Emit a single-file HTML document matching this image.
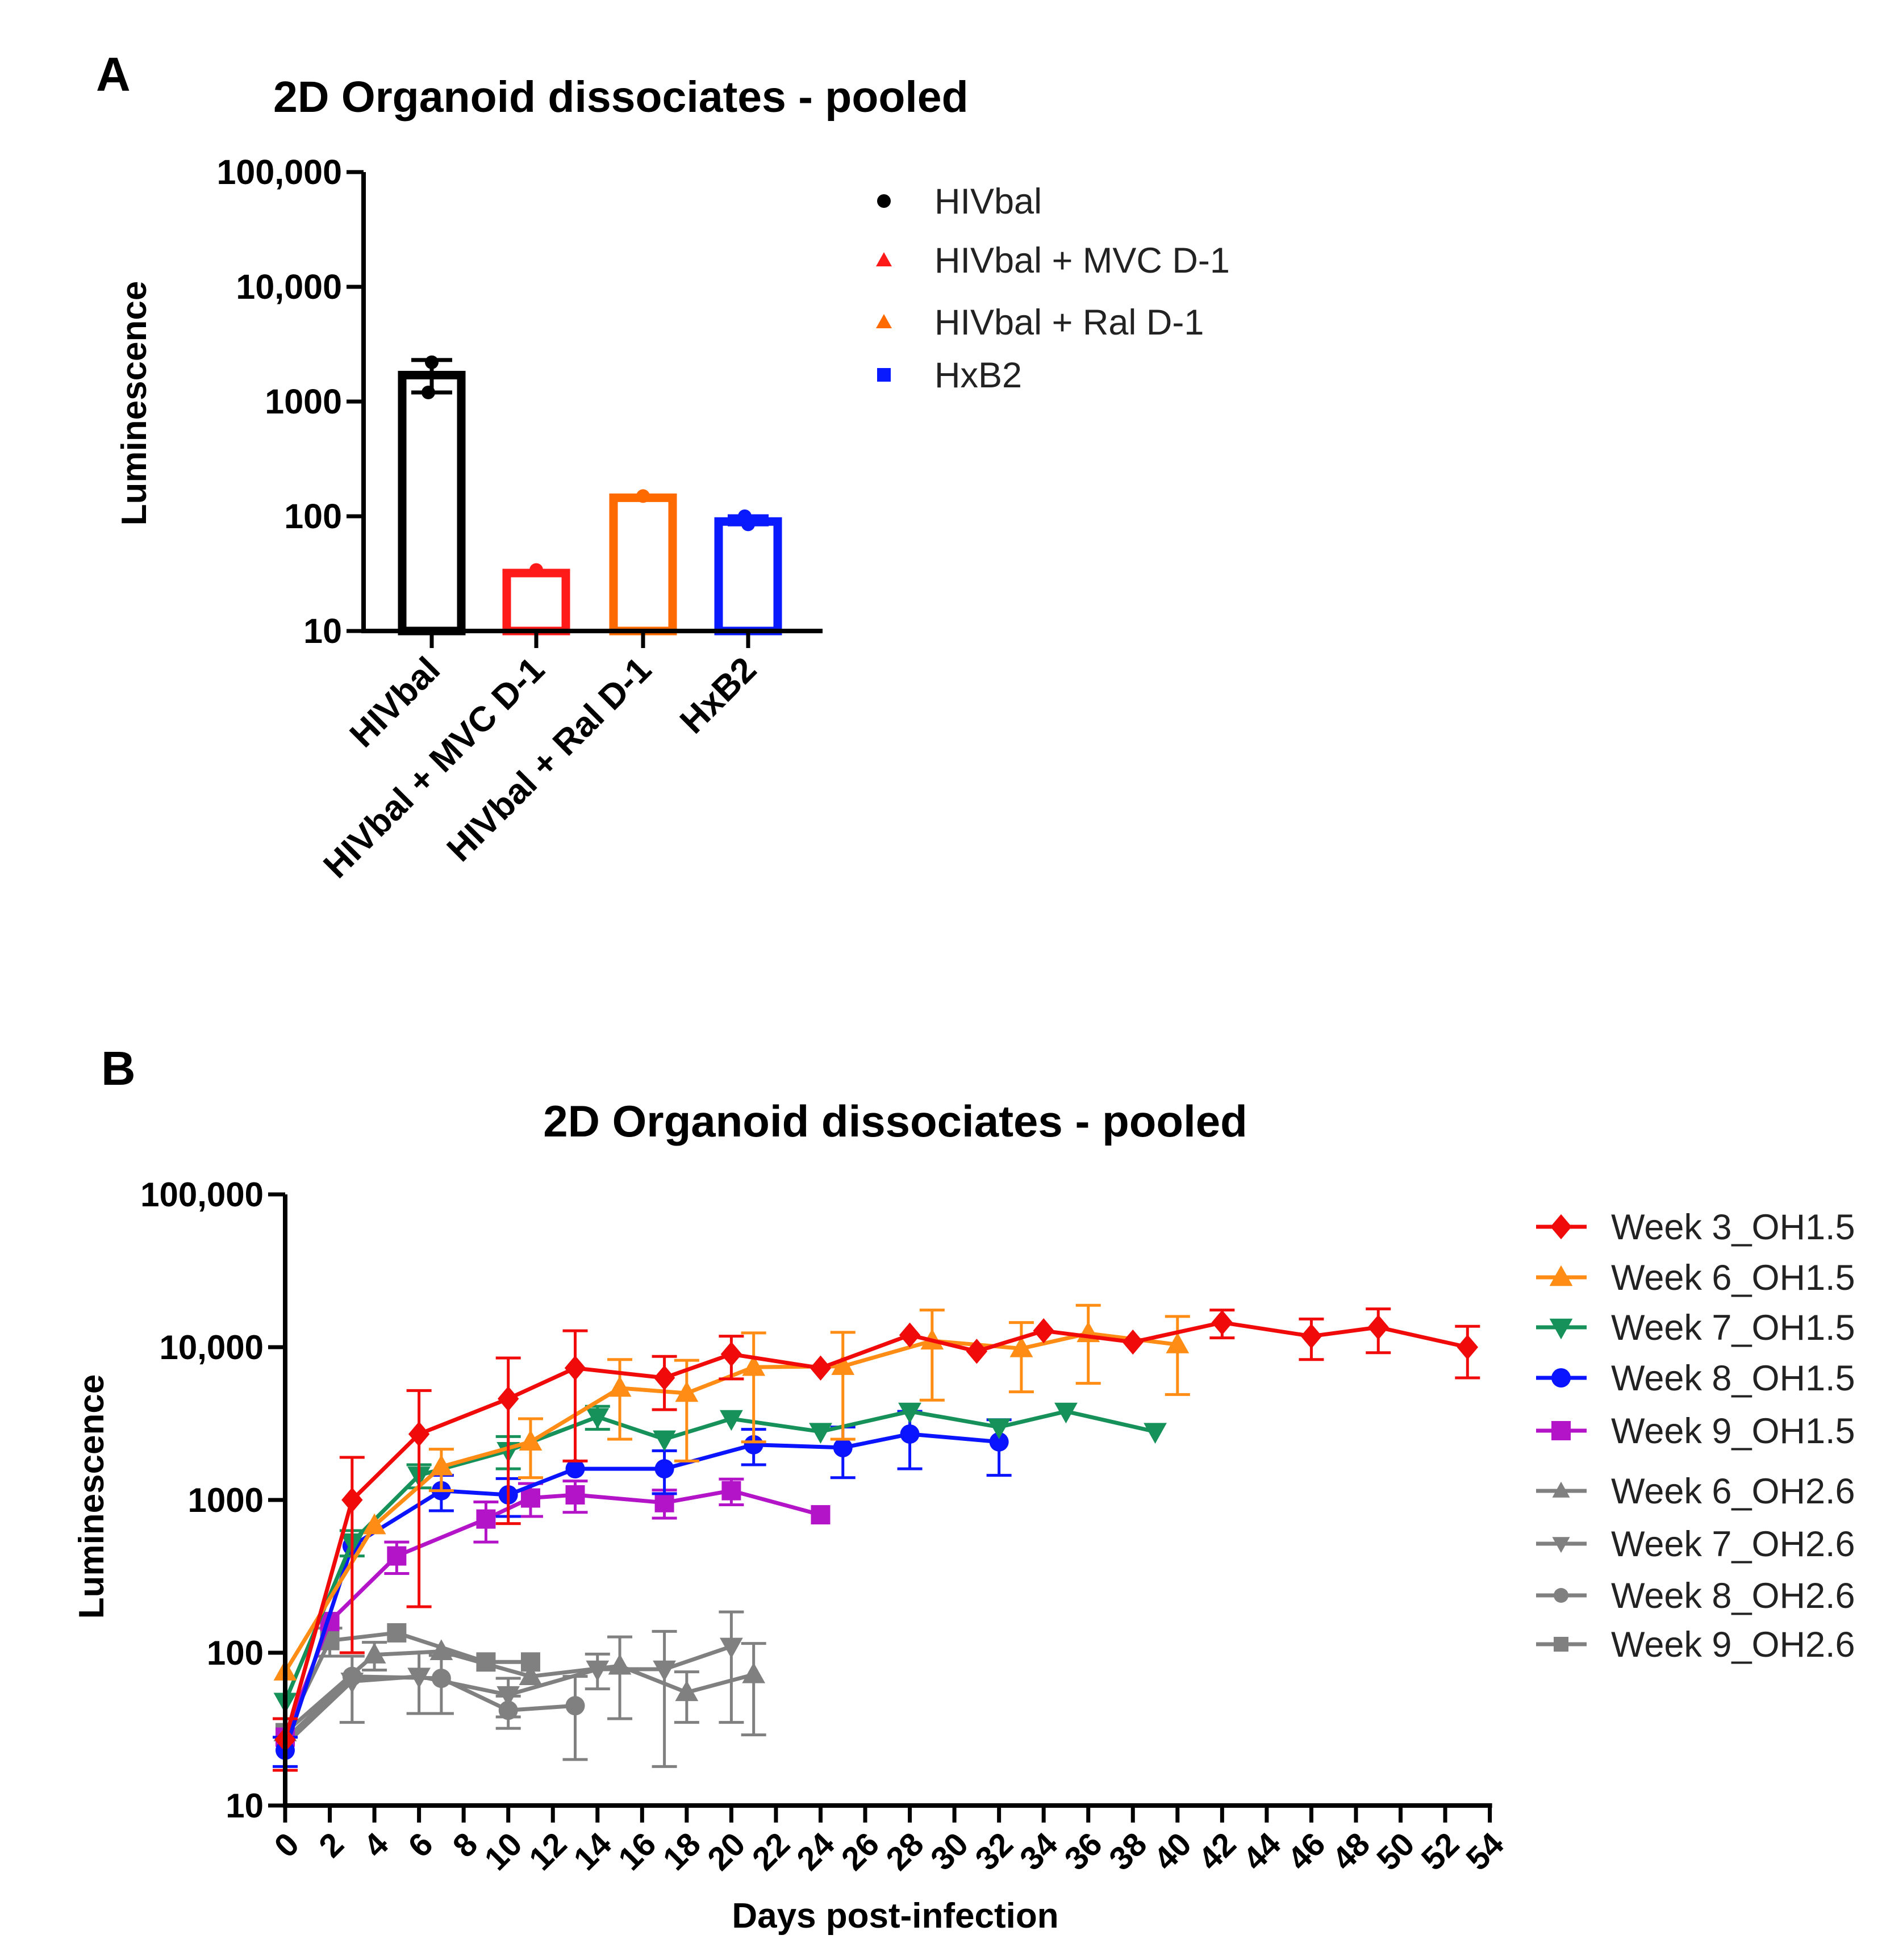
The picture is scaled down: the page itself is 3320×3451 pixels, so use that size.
<!DOCTYPE html>
<html><head><meta charset="utf-8"><style>
html,body{margin:0;padding:0;background:#fff}
svg{display:block;font-family:"Liberation Sans",Arial,sans-serif}
</style></head><body>
<svg id="fig" width="3320" height="3451" viewBox="0 0 3320 3451" xmlns="http://www.w3.org/2000/svg">
<g id="panelA"></g>
<g id="panelB"></g>
</svg>
<script>
// ---------- Panel A data ----------
const aCategories = ["HIVbal","HIVbal + MVC D-1","HIVbal + Ral D-1","HxB2"];
const aValues = [1700, 32, 145, 90];
const aLow = [1200, 32, 145, 85];
const aHigh = [2300, 32, 145, 100];
const aPoints = [[2200,1200],[34],[150],[85,100]];
const aColors = ["#000000","#ff1a1a","#ff6a00","#0a1aff"];
const aYTicks = [10,100,1000,10000,100000];
const aYTickLabels = ["10","100","1000","10,000","100,000"];

// ---------- Panel B data ----------
const bXTicks = [0,2,4,6,8,10,12,14,16,18,20,22,24,26,28,30,32,34,36,38,40,42,44,46,48,50,52,54];
const bYTicks = [10,100,1000,10000,100000];
const bYTickLabels = ["10","100","1000","10,000","100,000"];
const bNames = ["Week 3_OH1.5","Week 6_OH1.5","Week 7_OH1.5","Week 8_OH1.5","Week 9_OH1.5","Week 6_OH2.6","Week 7_OH2.6","Week 8_OH2.6","Week 9_OH2.6"];
const w3Days = [0,3,6,10,13,17,20,24,28,31,34,38,42,46,49,53];
const w3Vals = [27,1000,2700,4600,7300,6300,9000,7300,12000,9400,12800,10800,14500,11800,13500,10000];
const w3Sd = [10,900,2500,3900,5500,2400,2800,0,0,0,0,0,3000,3500,4300,3700];
const w6Days = [0,4,7,11,15,18,21,25,29,33,36,40];
const w6Vals = [75,680,1650,2400,5400,5000,7400,7500,11000,9800,12300,10400];
const w6Sd = [0,0,500,1000,2900,3200,5000,5000,6500,4700,6500,5500];
const w7Days = [0,3,6,10,14,17,20,24,28,32,35,39];
const w7Vals = [48,530,1450,2100,3500,2500,3400,2800,3800,3000,3800,2800];
const w7Sd = [0,100,250,500,600,0,0,0,0,0,0,0];
const w8Days = [0,3,7,10,13,17,21,25,28,32];
const w8Vals = [23,500,1150,1080,1600,1600,2300,2200,2700,2400];
const w8Sd = [5,0,300,300,0,500,600,800,1100,950];
const w9Days = [0,2,5,9,11,13,17,20,24];
const w9Vals = [28,160,430,750,1030,1080,960,1150,800];
const w9Sd = [0,0,100,220,250,250,200,220,0];
const g6Days = [0,4,7,11,15,18,21];
const g6Vals = [30,97,102,70,82,55,72];
const g6Sd = [0,20,0,0,45,20,43];
const g7Days = [0,3,6,10,14,17,20];
const g7Vals = [25,65,70,53,78,78,110];
const g7Sd = [0,30,30,15,20,60,75];
const g8Days = [0,3,7,10,13];
const g8Vals = [27,70,68,42,45];
const g8Sd = [10,0,28,10,25];
const g9Days = [0,2,5,9,11];
const g9Vals = [30,120,135,87,87];
const g9Sd = [0,25,0,0,0];

const NS="http://www.w3.org/2000/svg";
function mk(parent,tag,attrs,text){const e=document.createElementNS(NS,tag);for(const k in attrs)e.setAttribute(k,attrs[k]);if(text!==undefined)e.textContent=text;parent.appendChild(e);return e;}

// ================= Panel A =================
const A=document.getElementById('panelA');
const aX0=640,aX1=1448,aYTop=303,aYBot=1111;
const aCenters=[760,944,1132,1317];
function ayS(v){return aYBot-(Math.log10(v)-1)*(aYBot-aYTop)/4;}
let t;
t=mk(A,'text',{x:169,y:160,'font-size':84,'font-weight':'bold'},'A');

t=mk(A,'text',{x:481,y:197,'font-size':77,'font-weight':'bold'},'2D Organoid dissociates - pooled');

t=mk(A,'text',{x:0,y:0,'font-size':62,'font-weight':'bold','text-anchor':'middle',transform:'translate(257,710) rotate(-90)'},'Luminescence');

// bars
aCategories.forEach((c,i)=>{
  const cx=aCenters[i],w=104,top=ayS(aValues[i]);
  const r=mk(A,'rect',{x:cx-w/2,y:top,width:w,height:aYBot-top,fill:'none',stroke:aColors[i],'stroke-width':15});
  
  if(aHigh[i]!==aLow[i]){
    const eb=mk(A,'path',{d:`M${cx},${ayS(aHigh[i])}V${ayS(aLow[i])}M${cx-36},${ayS(aHigh[i])}h72M${cx-36},${ayS(aLow[i])}h72`,stroke:aColors[i],'stroke-width':7,fill:'none'});
    
  }
  aPoints[i].forEach((p,j)=>{
    const m=mk(A,'circle',{cx:cx+(j?-6:0),cy:ayS(p),r:12,fill:aColors[i]});
    
  });
  const tk=mk(A,'line',{x1:cx,x2:cx,y1:aYBot,y2:aYBot+30,stroke:'#000','stroke-width':7});
  
  const lb=mk(A,'text',{'font-size':62,'font-weight':'bold','text-anchor':'end',transform:`translate(${cx+18},${aYBot+72}) rotate(-45)`},c);
  
});
// axes
t=mk(A,'path',{d:`M${aX0},${aYTop}V${aYBot}H${aX1}`,stroke:'#000','stroke-width':8,fill:'none'});

aYTicks.forEach((v,i)=>{
  const y=ayS(v);
  const l=mk(A,'line',{x1:aX0-30,x2:aX0,y1:y,y2:y,stroke:'#000','stroke-width':7});
  
  const tx=mk(A,'text',{x:aX0-38,y:y+21,'font-size':61,'font-weight':'bold','text-anchor':'end'},aYTickLabels[i]);
  
});
// legend A
const aLegY=[354,458,567,660];
aCategories.forEach((c,i)=>{
  const cx=1556,cy=aLegY[i];
  let m;
  if(i===0) m=mk(A,'circle',{cx:cx,cy:cy,r:12,fill:aColors[i]});
  else if(i<3) m=mk(A,'path',{d:`M${cx},${cy-14}L${cx+14},${cy+11}L${cx-14},${cy+11}Z`,fill:aColors[i]});
  else m=mk(A,'rect',{x:cx-12,y:cy-12,width:24,height:24,fill:aColors[i]});
  
  const tx=mk(A,'text',{x:1645,y:cy+22,'font-size':63,fill:'#222'},c);
  
});

// ================= Panel B =================
const B=document.getElementById('panelB');
const bX0=502,bPer=39.27,bYTop=2103,bYBot=3179;
function bx(d){return bX0+d*bPer;}
function by(v){return bYBot-(Math.log10(v)-1)*(bYBot-bYTop)/4;}
t=mk(B,'text',{x:178,y:1910,'font-size':84,'font-weight':'bold'},'B');

t=mk(B,'text',{x:1576,y:2001,'font-size':78,'font-weight':'bold','text-anchor':'middle'},'2D Organoid dissociates - pooled');

t=mk(B,'text',{'font-size':62,'font-weight':'bold','text-anchor':'middle',transform:'translate(182,2635) rotate(-90)'},'Luminescence');

t=mk(B,'text',{x:1576,y:3394,'font-size':62,'font-weight':'bold','text-anchor':'middle'},'Days post-infection');


const bSeries=[
 {d:g8Days,v:g8Vals,s:g8Sd,c:'#808080',m:'circle'},
 {d:g7Days,v:g7Vals,s:g7Sd,c:'#808080',m:'down'},
 {d:g6Days,v:g6Vals,s:g6Sd,c:'#808080',m:'up'},
 {d:g9Days,v:g9Vals,s:g9Sd,c:'#808080',m:'square'},
 {d:w9Days,v:w9Vals,s:w9Sd,c:'#b414c8',m:'square'},
 {d:w8Days,v:w8Vals,s:w8Sd,c:'#0a14ff',m:'circle'},
 {d:w7Days,v:w7Vals,s:w7Sd,c:'#17915a',m:'down'},
 {d:w6Days,v:w6Vals,s:w6Sd,c:'#ff8c14',m:'up'},
 {d:w3Days,v:w3Vals,s:w3Sd,c:'#f00a0a',m:'diamond'}
];
function marker(g,type,x,y,c,sz){
  let e;
  if(type==='circle') e=mk(g,'circle',{cx:x,cy:y,r:sz,fill:c});
  else if(type==='square') e=mk(g,'rect',{x:x-sz,y:y-sz,width:2*sz,height:2*sz,fill:c});
  else if(type==='up') e=mk(g,'path',{d:`M${x},${y-sz*1.25}L${x+sz*1.2},${y+sz*0.9}L${x-sz*1.2},${y+sz*0.9}Z`,fill:c});
  else if(type==='down') e=mk(g,'path',{d:`M${x},${y+sz*1.25}L${x+sz*1.2},${y-sz*0.9}L${x-sz*1.2},${y-sz*0.9}Z`,fill:c});
  else e=mk(g,'path',{d:`M${x},${y-sz*1.3}L${x+sz*1.1},${y}L${x},${y+sz*1.3}L${x-sz*1.1},${y}Z`,fill:c});
  return e;
}
bSeries.forEach((S,si)=>{
  const g=mk(B,'g',{});
  
  S.d.forEach((d,i)=>{
    if(S.s[i]>0){
      const hi=by(S.v[i]+S.s[i]);
      const lo=by(Math.max(S.v[i]-S.s[i],10.5));
      const x=bx(d);
      const eb=mk(g,'path',{d:`M${x},${hi}V${lo}M${x-22},${hi}h44M${x-22},${lo}h44`,stroke:S.c,'stroke-width':5,fill:'none'});
      
    }
  });
  const pts=S.d.map((d,i)=>bx(d)+','+by(S.v[i])).join(' ');
  const pl=mk(g,'polyline',{points:pts,fill:'none',stroke:S.c,'stroke-width':7,'stroke-linejoin':'round'});
  
  S.d.forEach((d,i)=>{
    const m=marker(g,S.m,bx(d),by(S.v[i]),S.c,17);
    
  });
});
// axes B
t=mk(B,'path',{d:`M${bX0},${bYTop}V${bYBot}H${bx(54)+4}`,stroke:'#000','stroke-width':8,fill:'none'});

bYTicks.forEach((v,i)=>{
  const y=by(v);
  const l=mk(B,'line',{x1:bX0-30,x2:bX0,y1:y,y2:y,stroke:'#000','stroke-width':7});
  
  const tx=mk(B,'text',{x:bX0-38,y:y+21,'font-size':60,'font-weight':'bold','text-anchor':'end'},bYTickLabels[i]);
  
});
bXTicks.forEach(d=>{
  const x=bx(d);
  const l=mk(B,'line',{x1:x,x2:x,y1:bYBot,y2:bYBot+30,stroke:'#000','stroke-width':7});
  
  const tx=mk(B,'text',{'font-size':58,'font-weight':'bold','text-anchor':'end',transform:`translate(${x+28},${bYBot+72}) rotate(-45)`},String(d));
  
});
// legend B
const bLegY=[2160,2249,2337,2426,2519,2625,2718,2809,2895];
const bLegColors=['#f00a0a','#ff8c14','#17915a','#0a14ff','#b414c8','#808080','#808080','#808080','#808080'];
const bLegMarks=['diamond','up','down','circle','square','up','down','circle','square'];
bNames.forEach((n,i)=>{
  const y=bLegY[i];
  const g=mk(B,'g',{});
  
  mk(g,'line',{x1:2704,x2:2793,y1:y,y2:y,stroke:bLegColors[i],'stroke-width':7});
  marker(g,bLegMarks[i],2748,y,bLegColors[i],i<5?17:13);
  mk(g,'text',{x:2836,y:y+22,'font-size':63,fill:'#222'},n);
});
</script>
</body></html>
